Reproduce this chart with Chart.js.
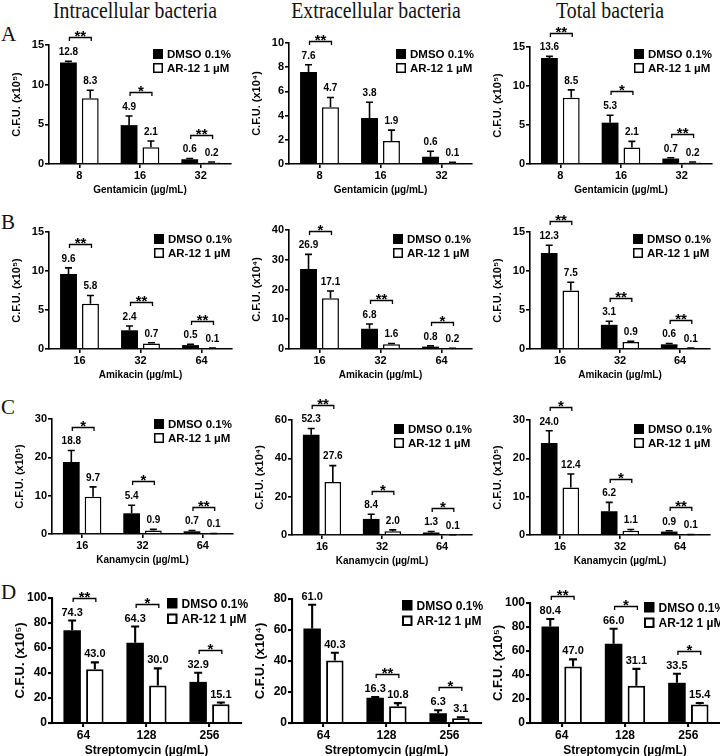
<!DOCTYPE html>
<html><head><meta charset="utf-8">
<script src="https://cdn.jsdelivr.net/npm/chart.js@4"></script>
<style>
html,body{margin:0;padding:0;background:#fff;width:720px;height:756px;overflow:hidden;position:relative;}
canvas{position:absolute;}
.t{position:absolute;font-family:"Liberation Serif","Times New Roman",serif;color:#111;white-space:nowrap;line-height:1;}
.ct{font-size:23px;top:-1px;transform:translateX(-50%) scaleX(0.86);}
</style></head><body>
<div class="t ct" style="left:135px">Intracellular bacteria</div>
<div class="t ct" style="left:376px">Extracellular bacteria</div>
<div class="t ct" style="left:610px">Total bacteria</div>
<div class="t" style="left:1px;top:24px;font-size:21px">A</div>
<div class="t" style="left:1px;top:212px;font-size:21px">B</div>
<div class="t" style="left:1px;top:397px;font-size:21px">C</div>
<div class="t" style="left:1px;top:582px;font-size:21px">D</div>
<script>
const FAM = '"Liberation Sans", Arial, Helvetica, sans-serif';
const seriesLabels = ['DMSO 0.1%', 'AR-12 1 µM'];
const gentamicinDoses = ['8', '16', '32'];
const amikacinDoses = ['16', '32', '64'];
const kanamycinDoses = ['16', '32', '64'];
const streptomycinDoses = ['64', '128', '256'];
const yTitleE5 = 'C.F.U. (x10\u2075)';
const yTitleE4 = 'C.F.U. (x10\u2074)';

// Row A - Gentamicin
const intraGentDMSO = [12.8, 4.9, 0.6];
const intraGentDMSOErr = [0.15, 1.15, 0.1];
const intraGentAR12 = [8.3, 2.1, 0.2];
const intraGentAR12Err = [1.0, 0.8, 0.05];
const intraGentSig = ['**', '*', '**'];
const extraGentDMSO = [7.6, 3.8, 0.6];
const extraGentDMSOErr = [0.6, 1.3, 0.45];
const extraGentAR12 = [4.7, 1.9, 0.1];
const extraGentAR12Err = [0.8, 0.9, 0.05];
const extraGentSig = ['**', '', ''];
const totalGentDMSO = [13.6, 5.3, 0.7];
const totalGentDMSOErr = [0.2, 0.95, 0.1];
const totalGentAR12 = [8.5, 2.1, 0.2];
const totalGentAR12Err = [1.0, 0.8, 0.05];
const totalGentSig = ['**', '*', '**'];

// Row B - Amikacin
const intraAmiDMSO = [9.6, 2.4, 0.5];
const intraAmiDMSOErr = [0.8, 0.55, 0.1];
const intraAmiAR12 = [5.8, 0.7, 0.1];
const intraAmiAR12Err = [1.05, 0.1, 0.02];
const intraAmiSig = ['**', '**', '**'];
const extraAmiDMSO = [26.9, 6.8, 0.8];
const extraAmiDMSOErr = [4.9, 1.6, 0.25];
const extraAmiAR12 = [17.1, 1.6, 0.2];
const extraAmiAR12Err = [2.4, 0.25, 0.05];
const extraAmiSig = ['*', '**', '*'];
const totalAmiDMSO = [12.3, 3.1, 0.6];
const totalAmiDMSOErr = [1.0, 0.45, 0.1];
const totalAmiAR12 = [7.5, 0.9, 0.1];
const totalAmiAR12Err = [1.05, 0.1, 0.02];
const totalAmiSig = ['**', '**', '**'];

// Row C - Kanamycin
const intraKanDMSO = [18.8, 5.4, 0.7];
const intraKanDMSOErr = [3.0, 2.1, 0.2];
const intraKanAR12 = [9.7, 0.9, 0.1];
const intraKanAR12Err = [2.6, 0.3, 0.03];
const intraKanSig = ['*', '*', '**'];
const extraKanDMSO = [52.3, 8.4, 1.3];
const extraKanDMSOErr = [3.3, 2.4, 0.5];
const extraKanAR12 = [27.6, 2.0, 0.1];
const extraKanAR12Err = [8.6, 0.7, 0.05];
const extraKanSig = ['**', '*', '*'];
const totalKanDMSO = [24.0, 6.2, 0.9];
const totalKanDMSOErr = [3.2, 2.3, 0.2];
const totalKanAR12 = [12.4, 1.1, 0.1];
const totalKanAR12Err = [3.5, 0.35, 0.03];
const totalKanSig = ['*', '*', '**'];

// Row D - Streptomycin
const intraStrDMSO = [74.3, 64.3, 32.9];
const intraStrDMSOErr = [7.7, 12.9, 7.3];
const intraStrAR12 = [43.0, 30.0, 15.1];
const intraStrAR12Err = [5.5, 13.7, 1.3];
const intraStrSig = ['**', '*', '*'];
const extraStrDMSO = [61.0, 16.3, 6.3];
const extraStrDMSOErr = [15.3, 0.4, 1.9];
const extraStrAR12 = [40.3, 10.8, 3.1];
const extraStrAR12Err = [5.0, 2.0, 0.5];
const extraStrSig = ['', '**', '*'];
const totalStrDMSO = [80.4, 66.0, 33.5];
const totalStrDMSOErr = [6.3, 12.6, 7.5];
const totalStrAR12 = [47.0, 31.1, 15.4];
const totalStrAR12Err = [6.0, 14.0, 1.3];
const totalStrSig = ['**', '*', '*'];

// Layout styles (not data)
const styleABC = {lw: 1.6, bw: 1.5, tick: 11, val: 10, leg: 11.5, yt: 11, xt: 10, star: 15, box: 10, legStep: 14, cap: 3.5, valGap: 6.2, brGap: 14, hx: 32};
const styleD = {lw: 2.1, bw: 2, tick: 12, val: 11, leg: 12, yt: 13, xt: 12, star: 15, box: 10.5, legStep: 15.5, cap: 4, valGap: 5, brGap: 14, hx: 35};

const WY = 39, PT = 34, PR = 14;

const panels = [
  {x0: 49, x1: 231, top: 45, zero: 164, max: 15, step: 5, yTitle: yTitleE5, xTitle: 'Gentamicin (µg/mL)', labels: gentamicinDoses, a: intraGentDMSO, aErr: intraGentDMSOErr, b: intraGentAR12, bErr: intraGentAR12Err, sig: intraGentSig, legDx: 78, legDy: 4, s: styleABC},
  {x0: 289, x1: 472, top: 43, zero: 164, max: 10, step: 2, yTitle: yTitleE4, xTitle: 'Gentamicin (µg/mL)', labels: gentamicinDoses, a: extraGentDMSO, aErr: extraGentDMSOErr, b: extraGentAR12, bErr: extraGentAR12Err, sig: extraGentSig, legDx: 76, legDy: 6, s: styleABC},
  {x0: 530, x1: 712, top: 47, zero: 164, max: 15, step: 5, yTitle: yTitleE5, xTitle: 'Gentamicin (µg/mL)', labels: gentamicinDoses, a: totalGentDMSO, aErr: totalGentDMSOErr, b: totalGentAR12, bErr: totalGentAR12Err, sig: totalGentSig, legDx: 78, legDy: 2, s: styleABC},
  {x0: 49, x1: 232, top: 232, zero: 349, max: 15, step: 5, yTitle: yTitleE5, xTitle: 'Amikacin (µg/mL)', labels: amikacinDoses, a: intraAmiDMSO, aErr: intraAmiDMSOErr, b: intraAmiAR12, bErr: intraAmiAR12Err, sig: intraAmiSig, legDx: 78, legDy: 2, s: styleABC},
  {x0: 289, x1: 472, top: 230, zero: 349, max: 40, step: 10, yTitle: yTitleE4, xTitle: 'Amikacin (µg/mL)', labels: amikacinDoses, a: extraAmiDMSO, aErr: extraAmiDMSOErr, b: extraAmiAR12, bErr: extraAmiAR12Err, sig: extraAmiSig, legDx: 79, legDy: 4, s: styleABC},
  {x0: 530, x1: 710, top: 232, zero: 349, max: 15, step: 5, yTitle: yTitleE5, xTitle: 'Amikacin (µg/mL)', labels: amikacinDoses, a: totalAmiDMSO, aErr: totalAmiDMSOErr, b: totalAmiAR12, bErr: totalAmiAR12Err, sig: totalAmiSig, legDx: 77, legDy: 2, s: styleABC},
  {x0: 52, x1: 233, top: 419, zero: 534, max: 30, step: 10, yTitle: yTitleE5, xTitle: 'Kanamycin (µg/mL)', labels: kanamycinDoses, a: intraKanDMSO, aErr: intraKanDMSOErr, b: intraKanAR12, bErr: intraKanAR12Err, sig: intraKanSig, legDx: 79, legDy: 0, s: styleABC},
  {x0: 292, x1: 472, top: 420, zero: 535, max: 60, step: 20, yTitle: yTitleE4, xTitle: 'Kanamycin (µg/mL)', labels: kanamycinDoses, a: extraKanDMSO, aErr: extraKanDMSOErr, b: extraKanAR12, bErr: extraKanAR12Err, sig: extraKanSig, legDx: 78, legDy: 4, s: styleABC},
  {x0: 530, x1: 710, top: 420, zero: 535, max: 30, step: 10, yTitle: yTitleE5, xTitle: 'Kanamycin (µg/mL)', labels: kanamycinDoses, a: totalKanDMSO, aErr: totalKanDMSOErr, b: totalKanAR12, bErr: totalKanAR12Err, sig: totalKanSig, legDx: 76, legDy: 4, s: styleABC},
  {x0: 52, x1: 241, top: 598, zero: 723, max: 100, step: 20, yTitle: yTitleE5, xTitle: 'Streptomycin (µg/mL)', labels: streptomycinDoses, a: intraStrDMSO, aErr: intraStrDMSOErr, b: intraStrAR12, bErr: intraStrAR12Err, sig: intraStrSig, legDx: 74, legDy: 0, s: styleD},
  {x0: 292, x1: 481, top: 599, zero: 723, max: 80, step: 20, yTitle: yTitleE4, xTitle: 'Streptomycin (µg/mL)', labels: streptomycinDoses, a: extraStrDMSO, aErr: extraStrDMSOErr, b: extraStrAR12, bErr: extraStrAR12Err, sig: extraStrSig, legDx: 79, legDy: 1, s: styleD},
  {x0: 530, x1: 720, top: 603, zero: 723, max: 100, step: 20, yTitle: yTitleE5, xTitle: 'Streptomycin (µg/mL)', labels: streptomycinDoses, a: totalStrDMSO, aErr: totalStrDMSOErr, b: totalStrAR12, bErr: totalStrAR12Err, sig: totalStrSig, legDx: 76, legDy: -1, s: styleD}
];

function bold(size) { return 'bold ' + size + 'px ' + FAM; }

const overlayPlugin = {
  id: 'overlay',
  afterDatasetsDraw(chart) {
    const p = chart.config._config.panel;
    const s = p.s;
    const ctx = chart.ctx;
    const ys = chart.scales.y;
    const area = chart.chartArea;
    ctx.save();
    ctx.strokeStyle = '#000';
    ctx.fillStyle = '#000';
    ctx.lineCap = 'butt';
    const labelC = [[], []], xs = [[], []];
    chart.data.datasets.forEach((ds, i) => {
      const meta = chart.getDatasetMeta(i);
      meta.data.forEach((el, j) => {
        const v = ds.data[j], e = ds.err[j];
        const yTop = ys.getPixelForValue(v + e);
        const yBar = el.y;
        ctx.lineWidth = s.lw;
        ctx.beginPath();
        ctx.moveTo(el.x, yBar);
        ctx.lineTo(el.x, yTop);
        ctx.moveTo(el.x - s.cap, yTop);
        ctx.lineTo(el.x + s.cap, yTop);
        ctx.stroke();
        ctx.font = bold(s.val);
        ctx.textAlign = 'center';
        ctx.textBaseline = 'alphabetic';
        const base = yTop - s.valGap;
        ctx.fillText(v.toFixed(1), el.x, base);
        labelC[i][j] = base - s.val * 0.36;
        xs[i][j] = el.x;
      });
    });
    p.sig.forEach((st, j) => {
      if (!st) return;
      const y = Math.round(Math.min(labelC[0][j], labelC[1][j]) - s.brGap) + 0.5;
      const xa = xs[0][j] + 1, xb = xs[1][j] + 1;
      ctx.lineWidth = 1.3;
      ctx.beginPath();
      ctx.moveTo(xa, y + 3.5); ctx.lineTo(xa, y); ctx.lineTo(xb, y); ctx.lineTo(xb, y + 3.5);
      ctx.stroke();
      ctx.font = bold(s.star);
      ctx.textAlign = 'center';
      ctx.textBaseline = 'alphabetic';
      ctx.fillText(st, (xa + xb) / 2, y + 3.6);
    });
    // legend
    const bx = area.right - p.legDx, by = area.top + p.legDy;
    chart.data.datasets.forEach((ds, i) => {
      const yy = by + i * s.legStep;
      if (ds.backgroundColor === '#000') {
        ctx.fillStyle = '#000';
        ctx.fillRect(bx, yy, s.box, s.box);
      } else {
        ctx.fillStyle = '#fff';
        ctx.fillRect(bx, yy, s.box, s.box);
        ctx.lineWidth = s.bw;
        ctx.strokeStyle = '#000';
        ctx.strokeRect(bx + s.bw / 2, yy + s.bw / 2, s.box - s.bw, s.box - s.bw);
      }
      ctx.fillStyle = '#000';
      ctx.font = bold(s.leg);
      ctx.textAlign = 'left';
      ctx.textBaseline = 'alphabetic';
      ctx.fillText(ds.label, bx + s.box + 4, yy + s.box / 2 + s.leg * 0.36);
    });
    ctx.restore();
  }
};

panels.forEach(p => {
  const s = p.s;
  const L = p.x0 - WY, T = p.top - PT;
  const W = p.x1 + PR - L, H = p.zero + s.hx - T;
  const cv = document.createElement('canvas');
  cv.width = W; cv.height = H;
  cv.style.left = L + 'px'; cv.style.top = T + 'px';
  cv.style.width = W + 'px'; cv.style.height = H + 'px';
  document.body.appendChild(cv);
  const cfg = {
    type: 'bar',
    panel: p,
    data: {
      labels: p.labels,
      datasets: [
        {label: seriesLabels[0], data: p.a, err: p.aErr, backgroundColor: '#000', borderColor: '#000', borderWidth: 0, categoryPercentage: 0.72, barPercentage: 0.77},
        {label: seriesLabels[1], data: p.b, err: p.bErr, backgroundColor: '#fff', borderColor: '#000', borderWidth: s.bw, borderSkipped: 'bottom', categoryPercentage: 0.72, barPercentage: 0.77}
      ]
    },
    options: {
      responsive: false, animation: false, devicePixelRatio: 1,
      layout: {padding: {top: PT, right: PR, left: 0, bottom: 0}},
      plugins: {legend: {display: false}, tooltip: {enabled: false}, title: {display: false}},
      scales: {
        x: {
          type: 'category', offset: true,
          grid: {display: true, drawOnChartArea: false, drawTicks: true, tickLength: 4, color: '#000', lineWidth: s.lw, offset: false},
          border: {display: true, color: '#000', width: s.lw},
          ticks: {color: '#000', font: {family: FAM, size: s.tick, weight: 'bold'}, padding: 1, maxRotation: 0, autoSkip: false},
          title: {display: true, text: p.xTitle, color: '#000', font: {family: FAM, size: s.xt, weight: 'bold'}, padding: 0},
          afterFit: sc => { sc.height = s.hx; }
        },
        y: {
          min: 0, max: p.max,
          grid: {display: true, drawOnChartArea: false, drawTicks: true, tickLength: 4, color: '#000', lineWidth: s.lw},
          border: {display: true, color: '#000', width: s.lw},
          ticks: {stepSize: p.step, color: '#000', font: {family: FAM, size: s.tick, weight: 'bold'}, padding: 1},
          title: {display: true, text: p.yTitle, color: '#000', font: {family: FAM, size: s.yt, weight: 'bold'}, padding: 0},
          afterFit: sc => { sc.width = WY; }
        }
      }
    },
    plugins: [overlayPlugin]
  };
  new Chart(cv, cfg);
});
</script>
</body></html>
